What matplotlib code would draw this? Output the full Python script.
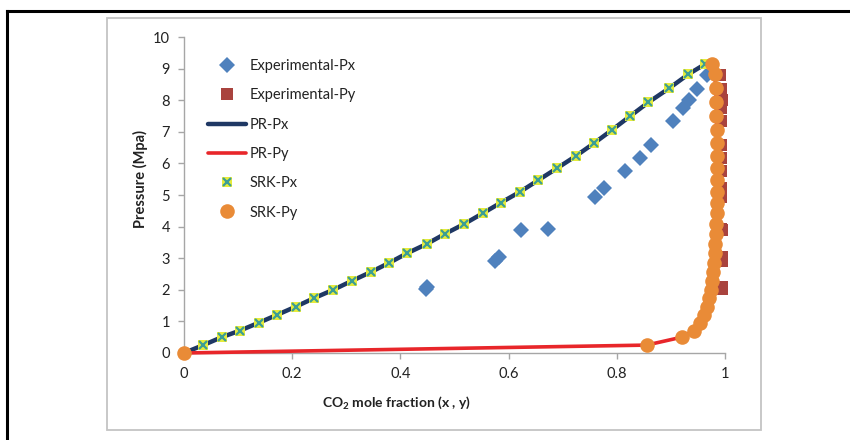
import matplotlib
matplotlib.use("Agg")
import matplotlib.pyplot as plt
from matplotlib.lines import Line2D
from matplotlib.patches import Rectangle

plt.rcParams['font.family'] = ['Lato', 'DejaVu Sans']
plt.rcParams['mathtext.fontset'] = 'custom'
plt.rcParams['mathtext.rm'] = 'Lato'
plt.rcParams['mathtext.bf'] = 'Lato:bold'

# ---------------- data ----------------
exp_px_x = [0.447, 0.450, 0.574, 0.583, 0.622, 0.673, 0.760, 0.776, 0.816, 0.843,
            0.864, 0.904, 0.923, 0.934, 0.948, 0.966]
exp_px_p = [2.03, 2.08, 2.91, 3.05, 3.89, 3.92, 4.95, 5.23, 5.77, 6.16,
            6.58, 7.34, 7.74, 8.00, 8.34, 8.80]

exp_py_y = [0.995, 0.995, 0.994, 0.994, 0.994, 0.993, 0.993, 0.993, 0.993, 0.993,
            0.993, 0.993, 0.993, 0.994, 0.993, 0.991]
exp_py_p = [2.03, 2.08, 2.91, 3.05, 3.89, 3.92, 4.95, 5.23, 5.77, 6.16,
            6.58, 7.34, 7.74, 8.00, 8.34, 8.80]

pr_px_x = [0.0, 0.0357, 0.0697, 0.1035, 0.1386, 0.1725, 0.2070, 0.2409, 0.2760, 0.3100,
           0.3451, 0.379, 0.4128, 0.4486, 0.4824, 0.5176, 0.5521, 0.5860, 0.6211, 0.6549,
           0.6889, 0.7240, 0.758, 0.792, 0.825, 0.8582, 0.8970, 0.9322, 0.9630, 0.972]
pr_px_p = [0.0, 0.25, 0.50, 0.71, 0.96, 1.21, 1.47, 1.74, 2.00, 2.28,
           2.56, 2.85, 3.16, 3.45, 3.77, 4.08, 4.42, 4.76, 5.10, 5.47,
           5.84, 6.23, 6.64, 7.07, 7.50, 7.93, 8.38, 8.82, 9.14, 9.20]

pr_py_y = [0.0, 0.855, 0.920, 0.942, 0.954, 0.962, 0.967, 0.971, 0.974, 0.976,
           0.978, 0.980, 0.981, 0.982, 0.983, 0.984, 0.985, 0.985, 0.985, 0.985,
           0.985, 0.985, 0.985, 0.985, 0.984, 0.984, 0.983, 0.981, 0.976, 0.972]
pr_py_p = [0.0, 0.25, 0.50, 0.71, 0.96, 1.21, 1.47, 1.74, 2.00, 2.28,
           2.56, 2.85, 3.16, 3.45, 3.77, 4.08, 4.42, 4.76, 5.10, 5.47,
           5.84, 6.23, 6.64, 7.07, 7.50, 7.93, 8.38, 8.82, 9.14, 9.20]

srk_px_x = [0.0357, 0.0697, 0.1035, 0.1386, 0.1725, 0.2070, 0.2409, 0.2760, 0.3100,
            0.3451, 0.379, 0.4128, 0.4486, 0.4824, 0.5176, 0.5521, 0.5860, 0.6211, 0.6549,
            0.6889, 0.7240, 0.758, 0.792, 0.825, 0.8582, 0.8970, 0.9322, 0.9630]
srk_px_p = [0.25, 0.50, 0.71, 0.96, 1.21, 1.47, 1.74, 2.00, 2.28,
            2.56, 2.85, 3.16, 3.45, 3.77, 4.08, 4.42, 4.76, 5.10, 5.47,
            5.84, 6.23, 6.64, 7.07, 7.50, 7.93, 8.38, 8.82, 9.14]

srk_py_y = [0.0, 0.855, 0.920, 0.942, 0.954, 0.962, 0.967, 0.971, 0.974, 0.976,
            0.978, 0.980, 0.981, 0.982, 0.983, 0.984, 0.985, 0.985, 0.985, 0.985,
            0.985, 0.985, 0.985, 0.985, 0.984, 0.984, 0.983, 0.981, 0.976]
srk_py_p = [0.0, 0.25, 0.50, 0.71, 0.96, 1.21, 1.47, 1.74, 2.00, 2.28,
            2.56, 2.85, 3.16, 3.45, 3.77, 4.08, 4.42, 4.76, 5.10, 5.47,
            5.84, 6.23, 6.64, 7.07, 7.50, 7.93, 8.38, 8.82, 9.14]

x_ticks = [0, 0.2, 0.4, 0.6, 0.8, 1]
x_ticklabels = ['0', '0.2', '0.4', '0.6', '0.8', '1']
y_ticks = list(range(0, 11))

# ---------------- figure ----------------
W, H = 850, 440
fig = plt.figure(figsize=(8.5, 4.4), dpi=100)
fig.patch.set_facecolor('white')

# outer black frame (left and top visible)
fig.add_artist(Line2D([7 / W, 7 / W], [0, 1 - 11 / H], color='black', lw=2.2,
                      transform=fig.transFigure))
fig.add_artist(Line2D([7 / W, 1], [1 - 11 / H, 1 - 11 / H], color='black', lw=2.2,
                      transform=fig.transFigure))
# chart area box
fig.add_artist(Rectangle((107 / W, 1 - 430 / H), (761 - 107) / W, (430 - 18) / H,
                         transform=fig.transFigure, fill=False, edgecolor='#C4C4C4', lw=1.3))

ax = fig.add_axes([184 / W, 1 - 353 / H, (725 - 184) / W, (353 - 37) / H])
ax.set_xlim(0, 1)
ax.set_ylim(0, 10)

blue = '#4F81BD'
dred = '#A9433E'
navy = '#1F3864'
red = '#E8262A'
orange = '#E98B37'
yellow = '#E6EB3A'
teal = '#3C9E94'

h1, = ax.plot(exp_px_x, exp_px_p, linestyle='none', marker='D', markersize=8.5,
              color=blue, markeredgewidth=0, clip_on=False, zorder=3)
h2, = ax.plot(exp_py_y, exp_py_p, linestyle='none', marker='s', markersize=9,
              color=dred, markeredgewidth=0, clip_on=False, zorder=3)
h3, = ax.plot(pr_px_x, pr_px_p, color=navy, lw=3.2, clip_on=False, zorder=4,
              solid_capstyle='round')
h4, = ax.plot(pr_py_y, pr_py_p, color=red, lw=2.6, clip_on=False, zorder=4,
              solid_capstyle='round')
h5a, = ax.plot(srk_px_x, srk_px_p, linestyle='none', marker='s', markersize=7.5,
               color=yellow, markeredgewidth=0, clip_on=False, zorder=5)
h5b, = ax.plot(srk_px_x, srk_px_p, linestyle='none', marker='x', markersize=6,
               color=teal, markeredgewidth=1.6, clip_on=False, zorder=6)
h6, = ax.plot(srk_py_y, srk_py_p, linestyle='none', marker='o', markersize=10.5,
              color=orange, markeredgewidth=0, clip_on=False, zorder=7)

for s in ['top', 'right']:
    ax.spines[s].set_visible(False)
for s in ['left', 'bottom']:
    ax.spines[s].set_color('#A6A6A6')
    ax.spines[s].set_linewidth(1.0)

ax.set_xticks(x_ticks)
ax.set_xticklabels(x_ticklabels)
ax.set_yticks(y_ticks)
ax.tick_params(axis='both', direction='out', length=4, width=1, color='#A6A6A6',
               labelsize=10.5, labelcolor='#222222')
ax.tick_params(axis='y', pad=6)
ax.tick_params(axis='x', pad=6)

fig.text(140 / W, 1 - 179 / H, 'Pressure (Mpa)', rotation=90, ha='center', va='center',
         fontsize=10.5, fontweight='bold', color='#222222')
fig.text(397 / W, 1 - 403 / H, r'CO$_\mathbf{2}$ mole fraction (x , y)', ha='center',
         va='center', fontsize=10, fontweight='bold', color='#222222')

leg = ax.legend([h1, h2, h3, h4, (h5a, h5b), h6],
                ['Experimental-Px', 'Experimental-Py', 'PR-Px', 'PR-Py', 'SRK-Px', 'SRK-Py'],
                loc='upper left', bbox_to_anchor=(208 / W, 1 - 59 / H),
                bbox_transform=fig.transFigure, frameon=False, borderpad=0,
                handlelength=2.6, handletextpad=0.25, labelspacing=1.05,
                fontsize=10.5, borderaxespad=0, numpoints=1)
for t in leg.get_texts():
    t.set_color('#222222')

fig.savefig('out.png', dpi=100)
